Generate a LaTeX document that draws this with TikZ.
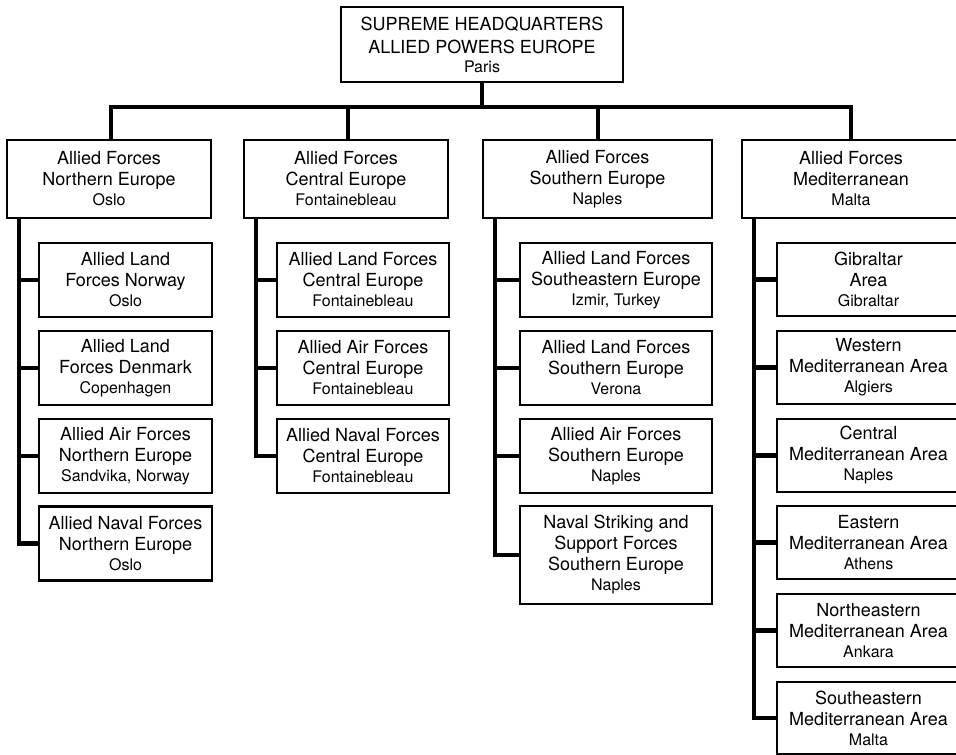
\documentclass[tikz,border=0pt]{standalone}
\usepackage{fontspec}
\setmainfont{TeX Gyre Heros}
\newcommand\smalltxt[1]{{\fontsize{16}{18}\selectfont #1}}
\tikzset{
  orgbox/.style={draw, line width=2.2pt, inner sep=0pt, align=center, fill=white,
    font=\fontsize{18}{21}\selectfont},
  headbox/.style={orgbox, minimum height=78pt},
  kidbox/.style={orgbox, minimum height=74pt},
  conn/.style={line width=4.6pt, line join=miter}
}
\begin{document}
\begin{tikzpicture}[x=1pt,y=-1pt]
\useasboundingbox (0,0) rectangle (956,755);
\clip (0,0) rectangle (956,755);
\fill[white] (0,0) rectangle (956,755);

% top
\node[orgbox, minimum width=282pt, minimum height=75pt, font=\fontsize{18}{23}\selectfont] (top) at (482,44.5)
  {SUPREME HEADQUARTERS\\ALLIED POWERS EUROPE\\[-4pt]\smalltxt{Paris}};

% headers
\node[headbox, minimum width=204pt] (h1) at (109,179) {Allied Forces\\Northern Europe\\[-1pt]\smalltxt{Oslo}};
\node[headbox, minimum width=204pt] (h2) at (346,179) {Allied Forces\\Central Europe\\[-1pt]\smalltxt{Fontainebleau}};
\node[headbox, minimum width=229pt] (h3) at (597.5,179) {Allied Forces\\Southern Europe\\[-1pt]\smalltxt{Naples}};
\node[headbox, minimum width=218pt] (h4) at (851,179) {Allied Forces\\Mediterranean\\[-1pt]\smalltxt{Malta}};

% column 1
\node[kidbox, minimum width=173pt] (a1) at (125.5,280) {Allied Land\\Forces Norway\\[-1pt]\smalltxt{Oslo}};
\node[kidbox, minimum width=173pt] (a2) at (125.5,368) {Allied Land\\Forces Denmark\\[-1pt]\smalltxt{Copenhagen}};
\node[kidbox, minimum width=173pt] (a3) at (125.5,456) {Allied Air Forces\\Northern Europe\\[-1pt]\smalltxt{Sandvika, Norway}};
\node[kidbox, minimum width=173pt] (a4) at (125.5,543.5) {Allied Naval Forces\\Northern Europe\\[-1pt]\smalltxt{Oslo}};

% column 2
\node[kidbox, minimum width=172pt] (b1) at (363,280) {Allied Land Forces\\Central Europe\\[-1pt]\smalltxt{Fontainebleau}};
\node[kidbox, minimum width=172pt] (b2) at (363,368) {Allied Air Forces\\Central Europe\\[-1pt]\smalltxt{Fontainebleau}};
\node[kidbox, minimum width=172pt] (b3) at (363,456) {Allied Naval Forces\\Central Europe\\[-1pt]\smalltxt{Fontainebleau}};

% column 3
\node[kidbox, minimum width=192pt] (c1) at (616,280) {Allied Land Forces\\Southeastern Europe\\[-1pt]\smalltxt{Izmir, Turkey}};
\node[kidbox, minimum width=192pt] (c2) at (616,368) {Allied Land Forces\\Southern Europe\\[-1pt]\smalltxt{Verona}};
\node[kidbox, minimum width=192pt] (c3) at (616,456) {Allied Air Forces\\Southern Europe\\[-1pt]\smalltxt{Naples}};
\node[orgbox, minimum width=192pt, minimum height=98pt] (c4) at (616,555) {Naval Striking and\\Support Forces\\Southern Europe\\[-1pt]\smalltxt{Naples}};

% column 4
\node[orgbox, minimum width=183pt, minimum height=73pt] (d1) at (868.5,279.5) {Gibraltar\\Area\\[-1pt]\smalltxt{Gibraltar}};
\node[orgbox, minimum width=183pt, minimum height=73pt] (d2) at (868.5,367.5) {Western\\Mediterranean Area\\[-1pt]\smalltxt{Algiers}};
\node[orgbox, minimum width=183pt, minimum height=73pt] (d3) at (868.5,455.5) {Central\\Mediterranean Area\\[-1pt]\smalltxt{Naples}};
\node[orgbox, minimum width=183pt, minimum height=73pt] (d4) at (868.5,542.5) {Eastern\\Mediterranean Area\\[-1pt]\smalltxt{Athens}};
\node[orgbox, minimum width=183pt, minimum height=73pt] (d5) at (868.5,630.5) {Northeastern\\Mediterranean Area\\[-1pt]\smalltxt{Ankara}};
\node[orgbox, minimum width=183pt, minimum height=72pt] (d6) at (868.5,718) {Southeastern\\Mediterranean Area\\[-1pt]\smalltxt{Malta}};

% bus
\coordinate (busy) at (0,107);
\coordinate (v1) at (111,0);
\coordinate (v2) at (348,0);
\coordinate (v3) at (598,0);
\coordinate (v4) at (851,0);
\draw[conn] (top.south) -- (top.south |- busy);
\draw[conn] (v1 |- h1.north) -- (v1 |- busy) -- (v4 |- busy) -- (v4 |- h4.north);
\draw[conn] (v2 |- busy) -- (v2 |- h2.north);
\draw[conn] (v3 |- busy) -- (v3 |- h3.north);

% trunks
\coordinate (t1) at (19,0);
\coordinate (t2) at (256,0);
\coordinate (t3) at (495,0);
\coordinate (t4) at (754,0);

\draw[conn] (t1 |- h1.south) |- (a4.west);
\foreach \n in {a1,a2,a3} \draw[conn] (t1 |- \n.west) -- (\n.west);

\draw[conn] (t2 |- h2.south) |- (b3.west);
\foreach \n in {b1,b2} \draw[conn] (t2 |- \n.west) -- (\n.west);

\draw[conn] (t3 |- h3.south) |- (c4.west);
\foreach \n in {c1,c2,c3} \draw[conn] (t3 |- \n.west) -- (\n.west);

\draw[conn] (t4 |- h4.south) |- (d6.west);
\foreach \n in {d1,d2,d3,d4,d5} \draw[conn] (t4 |- \n.west) -- (\n.west);
\end{tikzpicture}
\end{document}
